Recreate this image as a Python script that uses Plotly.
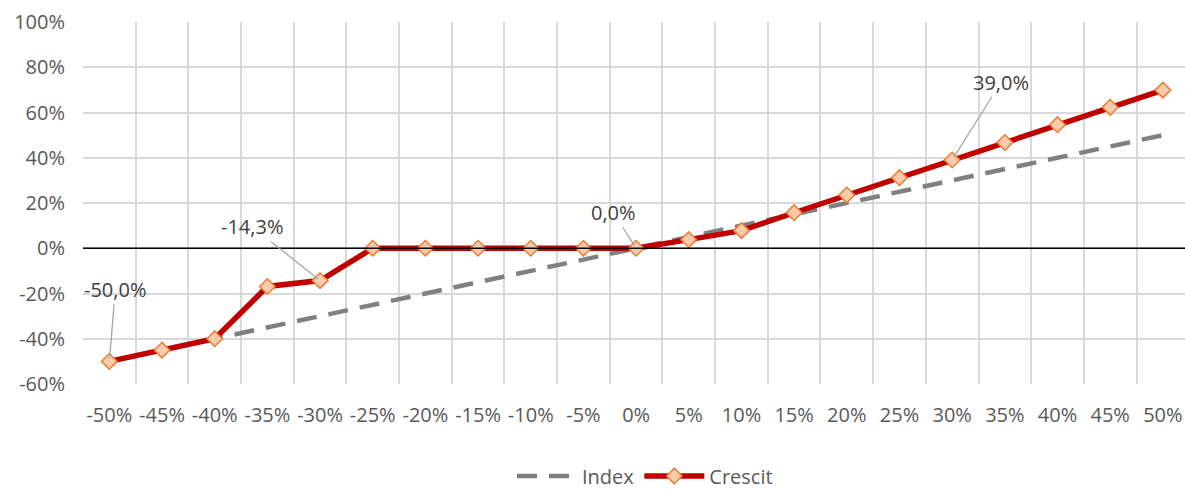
import plotly.graph_objects as go

categories = ["-50%", "-45%", "-40%", "-35%", "-30%", "-25%", "-20%", "-15%", "-10%", "-5%",
              "0%", "5%", "10%", "15%", "20%", "25%", "30%", "35%", "40%", "45%", "50%"]
index_vals = [-50, -45, -40, -35, -30, -25, -20, -15, -10, -5, 0, 5, 10, 15, 20, 25, 30, 35, 40, 45, 50]
crescit_vals = [-50.0, -45.0, -40.0, -16.9, -14.3, 0, 0, 0, 0, 0, 0, 3.8, 7.8, 15.7, 23.5, 31.2,
                39.0, 46.7, 54.6, 62.3, 69.9]
y_ticks = [-60, -40, -20, 0, 20, 40, 60, 80, 100]
labelled = {"-50%": (6, -72), "-30%": (-68, -54), "0%": (-23, -36), "30%": (49, -78)}

FONT = "Open Sans"
GRAY_TXT = "#595959"
FS = 20

fig = go.Figure()
fig.add_trace(go.Scatter(
    x=categories, y=index_vals, name="Index", mode="lines",
    line=dict(color="#808080", width=4.5, dash="20px,12px"),
))
fig.add_trace(go.Scatter(
    x=categories, y=crescit_vals, name="Crescit", mode="lines+markers",
    line=dict(color="#C00000", width=5.5),
    marker=dict(symbol="diamond", size=12, color="#F8CBAD",
                line=dict(color="#ED7D31", width=1.5)),
))

for cat, (ax, ay) in labelled.items():
    v = crescit_vals[categories.index(cat)]
    fig.add_annotation(
        x=cat, y=v, text=f"{v:.1f}%".replace(".", ","),
        showarrow=True, arrowhead=0, arrowwidth=1.3, arrowcolor="#A6A6A6",
        ax=ax, ay=ay, standoff=3,
        font=dict(family=FONT, size=FS, color="#404040"),
    )

fig.add_shape(type="line", xref="paper", x0=0, x1=1, yref="y", y0=0, y1=0,
              line=dict(color="black", width=1.5))

fig.update_layout(
    width=1185, height=505,
    margin=dict(l=83, r=0, t=22, b=121),
    paper_bgcolor="white", plot_bgcolor="white",
    font=dict(family=FONT, size=FS, color=GRAY_TXT),
    showlegend=True,
    legend=dict(orientation="h", x=0.51, xanchor="center", y=-0.254, yanchor="middle",
                itemwidth=60, font=dict(size=FS, color=GRAY_TXT)),
    xaxis=dict(
        type="category", categoryorder="array", categoryarray=categories,
        tickson="boundaries", range=[-0.5, 20.42], automargin=False,
        showgrid=True, gridcolor="#D9D9D9", gridwidth=1.5,
        ticks="", ticklabelstandoff=17, tickangle=0,
        showline=False, zeroline=False,
        tickfont=dict(family=FONT, size=FS, color=GRAY_TXT),
    ),
    yaxis=dict(
        range=[-60, 100], tickvals=y_ticks, ticktext=[f"{t}%" for t in y_ticks],
        automargin=False,
        showgrid=True, gridcolor="#D9D9D9", gridwidth=1.5,
        zeroline=False, showline=False,
        ticks="", ticklabelstandoff=17,
        tickfont=dict(family=FONT, size=FS, color=GRAY_TXT),
    ),
)

fig.write_html("out.html", config={"displayModeBar": False},
               post_script="document.body.style.margin='0';document.body.style.overflow='hidden';")
